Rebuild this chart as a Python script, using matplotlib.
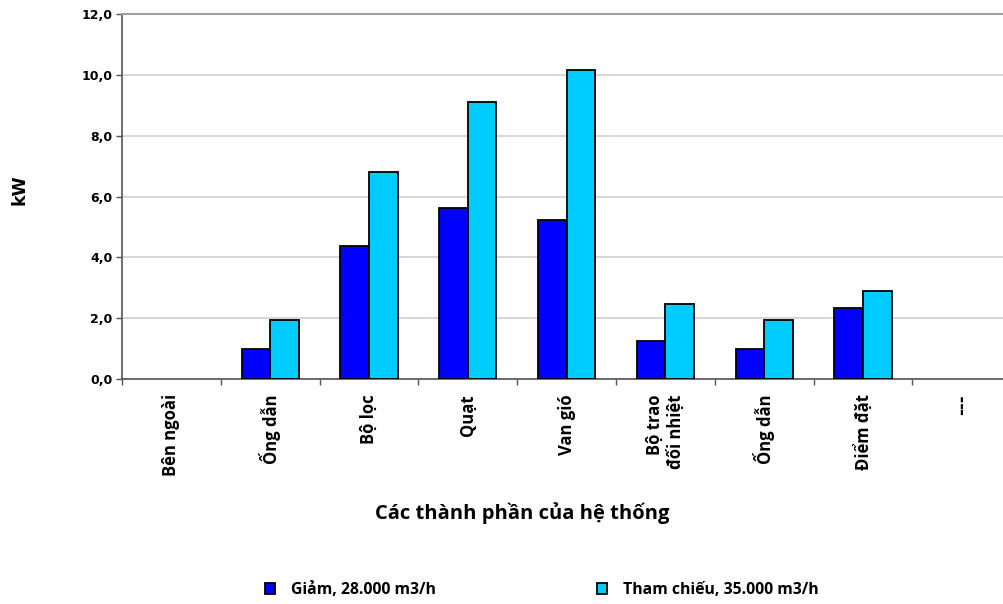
import matplotlib
matplotlib.use("Agg")
import matplotlib.pyplot as plt
import numpy as np

categories = ["Bên ngoài", "Ống dẫn", "Bộ lọc", "Quạt", "Van gió",
              "Bộ trao\nđối nhiệt", "Ống dẫn", "Điểm đặt", "---"]
reduced = [0.0, 1.0, 4.37, 5.62, 5.23, 1.25, 1.0, 2.33, 0.0]
reference = [0.0, 1.95, 6.82, 9.1, 10.17, 2.47, 1.95, 2.9, 0.0]
series_names = ["Giảm, 28.000 m3/h", "Tham chiếu, 35.000 m3/h"]
yticks = [0, 2, 4, 6, 8, 10, 12]

label_font = "Open Sans"
num_font = "DejaVu Sans"

fig = plt.figure(figsize=(10.04, 6.04), dpi=100)
ax = fig.add_axes([122 / 1004, (604 - 379) / 604, (1004 - 122) / 1004, (379 - 14) / 604])

x = np.arange(len(categories))
w = 0.29
# empty categories get no outline so nothing is drawn on the baseline
lw_red = [1.3 if v > 0 else 0 for v in reduced]
lw_ref = [1.3 if v > 0 else 0 for v in reference]
ax.bar(x - w / 2, reduced, w, color="#0000FF", edgecolor="black", linewidth=lw_red,
       label=series_names[0], zorder=3)
ax.bar(x + w / 2, reference, w, color="#00CCFF", edgecolor="black", linewidth=lw_ref,
       label=series_names[1], zorder=3)

ax.set_xlim(-0.5, -0.5 + 882 / 98.8)
ax.set_ylim(0, 12)
ax.set_yticks(yticks)
ax.set_yticklabels([f"{v:.1f}".replace(".", ",") for v in yticks],
                   fontfamily=num_font, fontweight="bold", fontsize=9)
ax.yaxis.grid(True, color="#d0d0d0", linewidth=1.2, zorder=0)
ax.set_axisbelow(True)

# category boundaries carry the x ticks; labels sit at category centres
ax.set_xticks(np.arange(len(categories)) - 0.5)
ax.set_xticklabels([])
ax.set_xticks(x, minor=True)
ax.set_xticklabels(categories, minor=True, rotation=90, va="top", ha="center",
                   multialignment="right", fontfamily=label_font,
                   fontweight="bold", fontsize=12)
ax.get_xticklabels(minor=True)[-1].set_fontfamily(num_font)
ax.tick_params(axis="x", which="minor", length=0, pad=11)
ax.tick_params(axis="x", which="major", length=4, width=1, color="#555555",
               direction="out")
ax.tick_params(axis="y", length=4, width=1, color="#555555", pad=3)

ax.spines["right"].set_visible(False)
ax.spines["top"].set_color("#a0a0a0")
ax.spines["top"].set_linewidth(1.5)
for side in ["left", "bottom"]:
    ax.spines[side].set_color("#555555")
    ax.spines[side].set_linewidth(1.2)

fig.text(20 / 1004, 1 - 190 / 604, "kW", rotation=90, ha="center", va="center",
         fontfamily=num_font, fontweight="bold", fontsize=12.5)
fig.text(522 / 1004, 1 - 513 / 604, "Các thành phần của hệ thống", ha="center",
         va="center", fontfamily=label_font, fontweight="bold", fontsize=14.5)

handles, labels = ax.get_legend_handles_labels()
leg = fig.legend(handles, labels, loc="center", bbox_to_anchor=(542 / 1004, 1 - 590 / 604),
                 ncol=2, frameon=False, handlelength=0.62, handleheight=0.62,
                 columnspacing=10.3, handletextpad=1.0,
                 prop={"family": label_font, "weight": "bold", "size": 11.3})
for h in leg.legend_handles:
    h.set_linewidth(1.3)
    h.set_edgecolor("black")

fig.savefig("out.png", dpi=100)
